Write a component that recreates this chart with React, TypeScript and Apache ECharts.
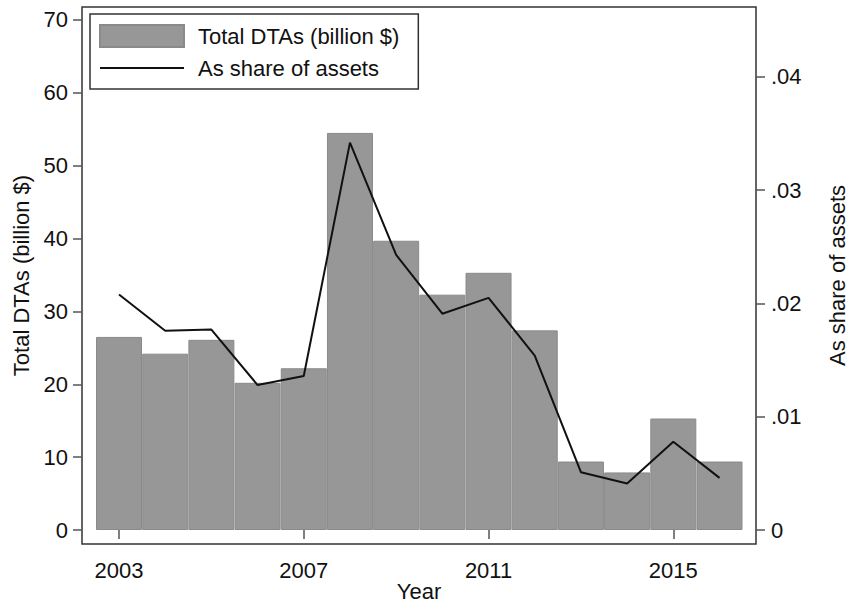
import React, { useEffect, useRef } from "react";
import * as echarts from "echarts";

// Deferred tax assets of banks, 2003-2016
const years = [2003, 2004, 2005, 2006, 2007, 2008, 2009, 2010, 2011, 2012, 2013, 2014, 2015, 2016];
const totalDTAs = [26.5, 24.2, 26.1, 20.2, 22.2, 54.5, 39.7, 32.3, 35.3, 27.4, 9.4, 7.9, 15.3, 9.4];
const shareOfAssets = [
  0.0208, 0.0176, 0.0177, 0.0128, 0.0136, 0.0342, 0.0243, 0.0191, 0.0205, 0.0154, 0.0051, 0.0041,
  0.0078, 0.0046,
];
const yearTicks = [2003, 2007, 2011, 2015];
const leftTicks = [0, 10, 20, 30, 40, 50, 60, 70];
const rightTicks = [0, 0.01, 0.02, 0.03, 0.04];

const FONT = "'Liberation Sans', Arial, Helvetica, sans-serif";
const FS = 22;

export default function App() {
  const ref = useRef<HTMLDivElement>(null);

  useEffect(() => {
    if (!ref.current) return;
    const chart = echarts.init(ref.current, null, { renderer: "svg" });
    const tickLine = { color: "#555", width: 1.5 };
    const labelStyle = { color: "#111", fontSize: FS, fontFamily: FONT };

    chart.setOption({
      animation: false,
      backgroundColor: "#fff",
      textStyle: { fontFamily: FONT },
      grid: {
        left: 82,
        right: 93,
        top: 7,
        bottom: 61,
        outerBoundsMode: "none",
        show: true,
        borderColor: "#333",
        borderWidth: 1.5,
        backgroundColor: "#fff",
      },
      legend: {
        left: 90,
        top: 14,
        orient: "vertical",
        itemWidth: 84,
        itemHeight: 22,
        itemGap: 9,
        padding: [10, 19, 10, 9],
        borderColor: "#333",
        borderWidth: 1.5,
        textStyle: { fontSize: FS, fontFamily: FONT, color: "#111", padding: [0, 0, 0, 9] },
        data: [
          { name: "Total DTAs (billion $)", icon: "rect" },
          {
            name: "As share of assets",
            // plain line key, no marker
            itemStyle: { color: "transparent", borderColor: "transparent", borderWidth: 0, opacity: 0 },
            lineStyle: { color: "#111", width: 2 },
          },
        ],
      },
      xAxis: {
        type: "value",
        min: 2002.199,
        max: 2016.79,
        name: "Year",
        nameLocation: "middle",
        nameGap: 36,
        nameMoveOverlap: false,
        nameTextStyle: labelStyle,
        axisLine: { show: false },
        axisTick: { show: true, length: 9, lineStyle: tickLine, customValues: yearTicks },
        axisLabel: {
          ...labelStyle,
          margin: 15,
          customValues: yearTicks,
          formatter: (v: number) => String(v),
        },
        splitLine: { show: false },
      },
      yAxis: [
        {
          type: "value",
          min: -1.92,
          max: 71.78,
          name: "Total DTAs (billion $)",
          nameLocation: "middle",
          nameGap: 50,
          nameMoveOverlap: false,
          nameTextStyle: labelStyle,
          axisLine: { show: false },
          axisTick: { show: true, length: 9, lineStyle: tickLine, customValues: leftTicks },
          axisLabel: { ...labelStyle, margin: 14, customValues: leftTicks },
          splitLine: { show: false },
        },
        {
          type: "value",
          position: "right",
          min: -0.001236,
          max: 0.04618,
          name: "As share of assets",
          nameLocation: "middle",
          nameGap: 70,
          nameRotate: 90,
          nameMoveOverlap: false,
          nameTextStyle: labelStyle,
          axisLine: { show: false },
          axisTick: { show: true, length: 9, lineStyle: tickLine, customValues: rightTicks },
          axisLabel: {
            ...labelStyle,
            margin: 15,
            customValues: rightTicks,
            formatter: (v: number) => (Math.abs(v) < 1e-9 ? "0" : v.toFixed(2).replace(/^0/, "")),
          },
          splitLine: { show: false },
        },
      ],
      series: [
        {
          name: "Total DTAs (billion $)",
          type: "bar",
          yAxisIndex: 0,
          barWidth: 46,
          itemStyle: { color: "#979797", borderColor: "#8a8a8a", borderWidth: 1 },
          data: years.map((y, i) => [y, totalDTAs[i]]),
        },
        {
          name: "As share of assets",
          type: "line",
          yAxisIndex: 1,
          symbol: "none",
          lineStyle: { color: "#111", width: 2 },
          itemStyle: { color: "#111" },
          data: years.map((y, i) => [y, shareOfAssets[i]]),
        },
      ],
    });

    return () => chart.dispose();
  }, []);

  return (
    <div
      ref={ref}
      style={{ position: "fixed", left: 0, top: 0, width: 849, height: 605, background: "#fff" }}
    />
  );
}
